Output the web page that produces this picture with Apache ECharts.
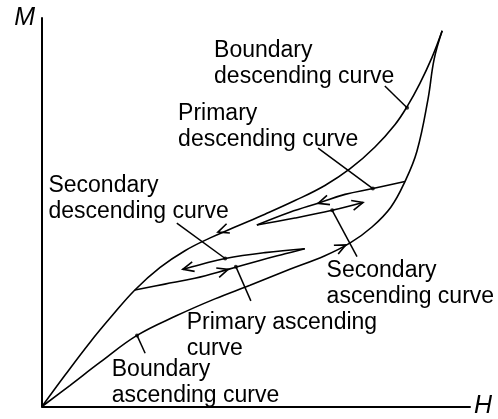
<!DOCTYPE html>
<html>
<head>
<meta charset="utf-8">
<script src="https://cdn.jsdelivr.net/npm/echarts@6/dist/echarts.min.js"></script>
<style>
  html, body { margin: 0; padding: 0; background: #fff; }
  #chart { width: 498px; height: 419px; }
</style>
</head>
<body>
<div id="chart"></div>
<script>
// Hysteresis loop: magnetisation M against field H (arbitrary units, 0-100)
const boundaryDescending = [
  [0, 0], [5.4, 8.1], [11.2, 16.5], [16.4, 23.4], [21.7, 30.0], [27.6, 35.8],
  [33.4, 40.1], [39.3, 43.4], [45.1, 46.2], [52.1, 49.5], [59.1, 53.0],
  [66.1, 56.9], [72.0, 61.2], [77.8, 66.8], [82.5, 72.6], [85.3, 77.2],
  [88.3, 83.2], [91.1, 89.8], [93.5, 96.7]
];
const boundaryAscending = [
  [0, 0], [6.5, 5.4], [13.6, 11.4], [22.2, 18.3], [31.5, 23.4], [40.4, 27.7],
  [48.6, 31.2], [57.9, 35.3], [66.1, 38.8], [72.0, 42.1], [77.1, 46.2],
  [81.5, 51.3], [84.8, 57.9], [87.6, 65.7], [90.2, 79.2], [91.6, 89.3],
  [93.5, 96.7]
];
const primaryAscending = [
  [21.7, 30.0], [28.7, 31.5], [35.7, 33.0], [43.5, 35.3], [50.9, 37.6],
  [56.8, 39.3], [61.4, 40.6]
];
const secondaryDescending = [
  [61.4, 40.6], [52.1, 39.6], [42.8, 38.1], [36.9, 36.5], [32.9, 35.3]
];
const primaryDescending = [
  [84.8, 57.9], [77.3, 56.1], [70.8, 54.6], [65.0, 52.5], [57.9, 50.0], [50.2, 46.7]
];
const secondaryAscending = [
  [50.2, 46.7], [59.1, 48.5], [67.8, 50.5], [75.0, 52.5]
];

// Direction arrows: [tipH, tipM, tailH, tailM]
const arrows = [
  [41.1, 44.9, 44.4, 46.2],
  [71.0, 41.6, 67.3, 39.6],
  [43.5, 35.3, 39.7, 34.0],
  [32.9, 35.3, 36.4, 36.3],
  [64.5, 52.3, 68.2, 53.6],
  [75.0, 52.5, 71.5, 51.5]
];

// Curve names with their leader lines: [labelEndH, labelEndM, curveH, curveM]
const curveNames = [
  'Boundary\ndescending curve',
  'Primary\ndescending curve',
  'Secondary\ndescending curve',
  'Secondary\nascending curve',
  'Primary ascending\ncurve',
  'Boundary\nascending curve'
];
const labelAnchors = [
  [40.2, 95.0], [31.8, 78.8], [1.5, 60.1], [66.5, 38.4], [33.8, 25.0], [16.3, 12.8]
];
const leaders = [
  [80.1, 82.5, 85.3, 76.9],
  [64.5, 66.5, 77.3, 56.1],
  [31.5, 47.2, 42.8, 38.1],
  [73.6, 38.6, 67.8, 50.5],
  [48.8, 27.2, 45.3, 36.0],
  [24.1, 13.7, 22.2, 18.3]
];

const INK = '#000';
const FONT = "'Liberation Sans', Arial, sans-serif";

function curve(name, data) {
  return {
    name, type: 'line', data, smooth: 0.4, symbol: 'none', silent: true,
    lineStyle: { color: INK, width: 1.6 }, z: 3
  };
}

const leaderSeries = leaders.map((l, i) => ({
  name: 'leader' + i, type: 'line', symbol: 'none', silent: true,
  data: [[l[0], l[1]], [l[2], l[3]]],
  lineStyle: { color: INK, width: 1.5 }, z: 2
}));

const chart = echarts.init(document.getElementById('chart'), null, { renderer: 'canvas' });
chart.setOption({
  animation: false,
  backgroundColor: '#fff',
  grid: { left: 42, right: 28, top: 18, bottom: 7 },
  xAxis: {
    type: 'value', min: 0, max: 100,
    name: 'H', nameLocation: 'end', nameGap: 4,
    nameTextStyle: {
      fontFamily: FONT, fontStyle: 'italic', fontSize: 25, color: INK,
      align: 'left', verticalAlign: 'middle', padding: [0, 0, 20, 0]
    },
    axisLine: { show: true, lineStyle: { color: INK, width: 2 } },
    axisTick: { show: false }, axisLabel: { show: false }, splitLine: { show: false }
  },
  yAxis: {
    type: 'value', min: 0, max: 100,
    name: 'M', nameLocation: 'end', nameGap: 0,
    nameTextStyle: {
      fontFamily: FONT, fontStyle: 'italic', fontSize: 25, color: INK,
      align: 'right', verticalAlign: 'middle', padding: [20, 7, 0, 0]
    },
    axisLine: { show: true, lineStyle: { color: INK, width: 2 } },
    axisTick: { show: false }, axisLabel: { show: false }, splitLine: { show: false }
  },
  series: [
    curve('Boundary descending', boundaryDescending),
    curve('Boundary ascending', boundaryAscending),
    curve('Primary ascending', primaryAscending),
    curve('Secondary descending', secondaryDescending),
    curve('Primary descending', primaryDescending),
    curve('Secondary ascending', secondaryAscending),
    ...leaderSeries,
    {
      name: 'leader ends', type: 'scatter', silent: true, symbolSize: 4,
      itemStyle: { color: INK },
      data: leaders.map(l => [l[2], l[3]]), z: 4
    },
    {
      name: 'arrows', type: 'custom', silent: true, clip: false,
      data: arrows,
      renderItem(params, api) {
        const tip = api.coord([api.value(0), api.value(1)]);
        const tail = api.coord([api.value(2), api.value(3)]);
        const a = Math.atan2(tip[1] - tail[1], tip[0] - tail[0]);
        const len = 12, spread = 0.42;
        const w1 = [tip[0] - len * Math.cos(a - spread), tip[1] - len * Math.sin(a - spread)];
        const w2 = [tip[0] - len * Math.cos(a + spread), tip[1] - len * Math.sin(a + spread)];
        return {
          type: 'polyline',
          shape: { points: [w1, tip, w2] },
          style: { stroke: INK, lineWidth: 1.6, fill: null }
        };
      },
      z: 5
    },
    {
      name: 'curve names', type: 'scatter', silent: true, symbolSize: 1,
      itemStyle: { color: 'rgba(0,0,0,0)' },
      data: labelAnchors.map((p, i) => ({ value: p, name: curveNames[i] })),
      label: {
        show: true, position: 'inside', align: 'left', verticalAlign: 'top',
        formatter: p => p.name,
        fontFamily: FONT, fontSize: 23, lineHeight: 26, color: INK,
        textBorderWidth: 0, opacity: 1
      },
      labelLayout: { hideOverlap: false },
      z: 6
    }
  ]
});
</script>
</body>
</html>
